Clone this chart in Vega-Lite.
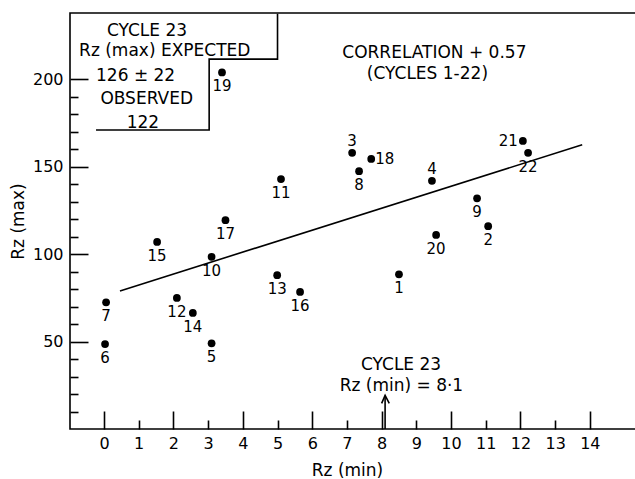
{
  "$schema": "https://vega.github.io/schema/vega-lite/v6.json",
  "width": 566,
  "height": 416,
  "autosize": {"type": "none"},
  "padding": {"left": 70, "top": 13, "right": 0, "bottom": 50},
  "background": "white",
  "config": {
    "font": "DejaVu Sans",
    "view": {"stroke": "black", "strokeWidth": 1.6},
    "axis": {
      "domain": false,
      "grid": false,
      "labelColor": "black",
      "labelFontSize": 16,
      "labelFont": "DejaVu Sans",
      "titleFont": "DejaVu Sans",
      "titleFontSize": 17,
      "titleFontWeight": "normal",
      "titleColor": "black",
      "tickColor": "black",
      "tickWidth": 1.6
    },
    "text": {"font": "DejaVu Sans", "color": "black"}
  },
  "datasets": {
    "cycles": [
      {"cycle": "1", "rzmin": 8.5, "rzmax": 88.5},
      {"cycle": "2", "rzmin": 11.07, "rzmax": 116},
      {"cycle": "3", "rzmin": 7.15, "rzmax": 158},
      {"cycle": "4", "rzmin": 9.45, "rzmax": 142},
      {"cycle": "5", "rzmin": 3.1, "rzmax": 49},
      {"cycle": "6", "rzmin": 0.03, "rzmax": 48.6},
      {"cycle": "7", "rzmin": 0.06, "rzmax": 72.5},
      {"cycle": "8", "rzmin": 7.35, "rzmax": 147.5},
      {"cycle": "9", "rzmin": 10.75, "rzmax": 132},
      {"cycle": "10", "rzmin": 3.1, "rzmax": 98.5},
      {"cycle": "11", "rzmin": 5.1, "rzmax": 143},
      {"cycle": "12", "rzmin": 2.1, "rzmax": 75},
      {"cycle": "13", "rzmin": 4.99, "rzmax": 88},
      {"cycle": "14", "rzmin": 2.56, "rzmax": 66.4},
      {"cycle": "15", "rzmin": 1.53, "rzmax": 107},
      {"cycle": "16", "rzmin": 5.65, "rzmax": 78.4},
      {"cycle": "17", "rzmin": 3.5, "rzmax": 119.5},
      {"cycle": "18", "rzmin": 7.7, "rzmax": 154.5},
      {"cycle": "19", "rzmin": 3.4, "rzmax": 204},
      {"cycle": "20", "rzmin": 9.57, "rzmax": 111},
      {"cycle": "21", "rzmin": 12.07, "rzmax": 164.8},
      {"cycle": "22", "rzmin": 12.22, "rzmax": 158}
    ],
    "fit": [
      {"rzmin": 0.46, "rzmax": 79},
      {"rzmin": 13.78, "rzmax": 162.6}
    ],
    "lines": [
      {"part": "box", "seq": 1, "rzmin": 5.0, "rzmax": 237.5},
      {"part": "box", "seq": 2, "rzmin": 5.0, "rzmax": 211.6},
      {"part": "box", "seq": 3, "rzmin": 3.03, "rzmax": 211.6},
      {"part": "box", "seq": 4, "rzmin": 3.03, "rzmax": 171.1},
      {"part": "box", "seq": 5, "rzmin": -0.23, "rzmax": 171.1},
      {"part": "shaft", "seq": 1, "rzmin": 8.1, "rzmax": 0},
      {"part": "shaft", "seq": 2, "rzmin": 8.1, "rzmax": 19},
      {"part": "head", "seq": 1, "rzmin": 8.0, "rzmax": 14.7},
      {"part": "head", "seq": 2, "rzmin": 8.1, "rzmax": 19.2},
      {"part": "head", "seq": 3, "rzmin": 8.22, "rzmax": 14.7}
    ],
    "notes": [
      {"rzmin": 1.24, "rzmax": 227.8, "label": "CYCLE 23"},
      {"rzmin": 1.75, "rzmax": 216.4, "label": "Rz (max) EXPECTED"},
      {"rzmin": 0.91, "rzmax": 202, "label": "126 ± 22"},
      {"rzmin": 1.23, "rzmax": 189, "label": "OBSERVED"},
      {"rzmin": 1.12, "rzmax": 175, "label": "122"},
      {"rzmin": 9.52, "rzmax": 215.2, "label": "CORRELATION  + 0.57"},
      {"rzmin": 9.32, "rzmax": 203.2, "label": "(CYCLES  1-22)"},
      {"rzmin": 8.56, "rzmax": 36.6, "label": "CYCLE 23"},
      {"rzmin": 8.57, "rzmax": 24.6, "label": "Rz (min) = 8·1"}
    ]
  },
  "layer": [
    {
      "data": {"name": "cycles"},
      "mark": {"type": "point", "filled": true, "color": "black", "opacity": 1, "size": 60},
      "encoding": {
        "x": {"field": "rzmin", "type": "quantitative",
          "scale": {"domain": [-0.98, 15.33], "nice": false, "zero": false},
          "axis": {"orient": "bottom", "title": "Rz (min)", "values": [0,1,2,3,4,5,6,7,8,9,10,11,12,13,14], "ticks": false, "labelPadding": 6, "titlePadding": 11, "labelFlush": false, "titleX": 277}},
        "y": {"field": "rzmax", "type": "quantitative",
          "scale": {"domain": [0, 238], "nice": false, "zero": false},
          "axis": {"orient": "left", "title": "Rz (max)", "values": [50, 100, 150, 200], "ticks": false, "labelPadding": 7, "titlePadding": 5, "labelFlush": false}}
      }
    },
    {
      "data": {"name": "fit"},
      "mark": {"type": "line", "color": "black", "strokeWidth": 1.6},
      "encoding": {
        "x": {"field": "rzmin", "type": "quantitative",
          "axis": {"orient": "bottom", "title": null, "labels": false, "values": [0,1,2,3,4,5,6,7,8,9,10,11,12,13,14],
            "tickSize": {"condition": {"test": "datum.value % 2 === 0", "value": -18}, "value": -9}}},
        "y": {"field": "rzmax", "type": "quantitative",
          "axis": {"orient": "left", "title": null, "labels": false, "values": [10,20,30,40,50,60,70,80,90,100,110,120,130,140,150,160,170,180,190,200],
            "tickSize": {"condition": {"test": "datum.value % 50 === 0", "value": -18}, "value": -8}}}
      }
    },
    {
      "data": {"name": "lines"},
      "mark": {"type": "line", "color": "black", "strokeWidth": 1.6},
      "encoding": {
        "x": {"field": "rzmin", "type": "quantitative", "axis": null},
        "y": {"field": "rzmax", "type": "quantitative", "axis": null},
        "detail": {"field": "part"},
        "order": {"field": "seq"}
      }
    },
    {
      "data": {"name": "notes"},
      "mark": {"type": "text", "fontSize": 17, "align": "center", "baseline": "middle"},
      "encoding": {
        "x": {"field": "rzmin", "type": "quantitative", "axis": null},
        "y": {"field": "rzmax", "type": "quantitative", "axis": null},
        "text": {"field": "label"}
      }
    },
    {
      "data": {"name": "cycles"},
      "transform": [{"filter": {"field": "cycle", "oneOf": ["1","2","5","6","7","8","9","10","11","12","13","14","15","16","17","19","20","22"]}}],
      "mark": {"type": "text", "fontSize": 15, "align": "center", "baseline": "middle", "dy": 14},
      "encoding": {
        "x": {"field": "rzmin", "type": "quantitative", "axis": null},
        "y": {"field": "rzmax", "type": "quantitative", "axis": null},
        "text": {"field": "cycle"}
      }
    },
    {
      "data": {"name": "cycles"},
      "transform": [{"filter": {"field": "cycle", "oneOf": ["3","4"]}}],
      "mark": {"type": "text", "fontSize": 15, "align": "center", "baseline": "middle", "dy": -12},
      "encoding": {
        "x": {"field": "rzmin", "type": "quantitative", "axis": null},
        "y": {"field": "rzmax", "type": "quantitative", "axis": null},
        "text": {"field": "cycle"}
      }
    },
    {
      "data": {"name": "cycles"},
      "transform": [{"filter": {"field": "cycle", "oneOf": ["21"]}}],
      "mark": {"type": "text", "fontSize": 15, "align": "right", "baseline": "middle", "dx": -5},
      "encoding": {
        "x": {"field": "rzmin", "type": "quantitative", "axis": null},
        "y": {"field": "rzmax", "type": "quantitative", "axis": null},
        "text": {"field": "cycle"}
      }
    },
    {
      "data": {"name": "cycles"},
      "transform": [{"filter": {"field": "cycle", "oneOf": ["18"]}}],
      "mark": {"type": "text", "fontSize": 15, "align": "left", "baseline": "middle", "dx": 4},
      "encoding": {
        "x": {"field": "rzmin", "type": "quantitative", "axis": null},
        "y": {"field": "rzmax", "type": "quantitative", "axis": null},
        "text": {"field": "cycle"}
      }
    }
  ],
  "resolve": {"axis": {"x": "independent", "y": "independent"}}
}
